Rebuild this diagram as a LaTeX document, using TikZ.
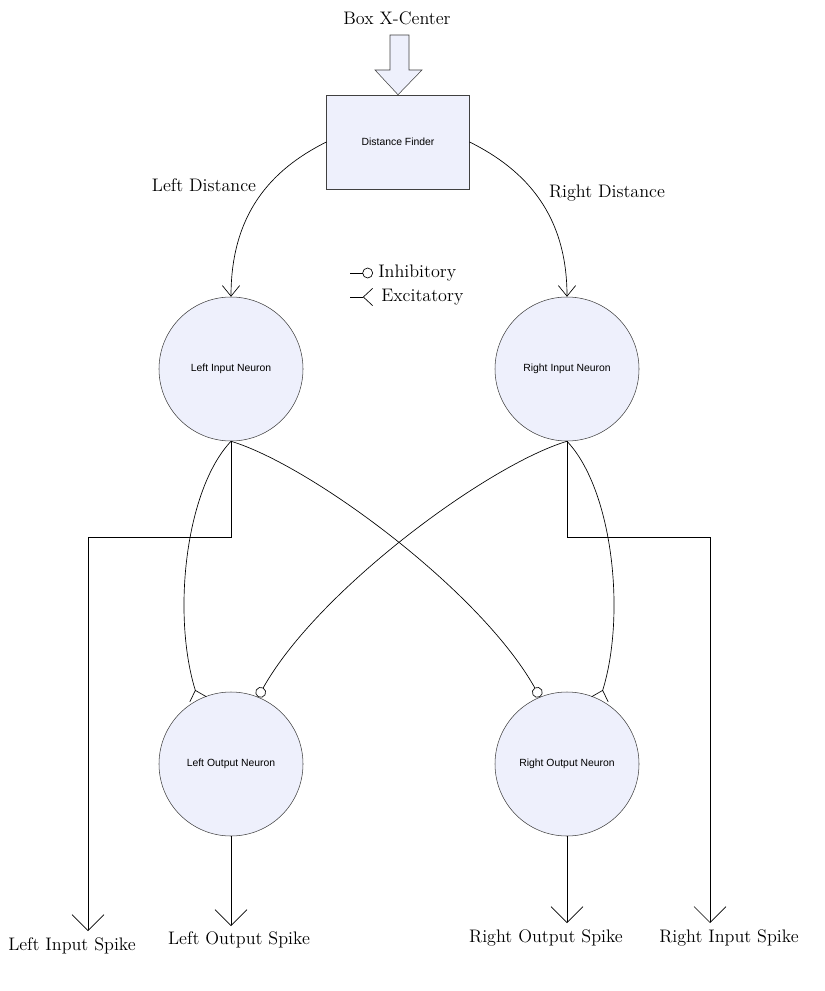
\documentclass[tikz,border=0pt]{standalone}
\usepackage{fontspec}
\newfontfamily\arialfont{Liberation Sans}
\usetikzlibrary{arrows.meta}
\definecolor{neuronfill}{RGB}{238,240,252}
\definecolor{neuronline}{RGB}{64,64,64}

\begin{document}
\begin{tikzpicture}[x=0.75pt,y=-0.75pt,
    neuron/.style={shape=circle,draw=neuronline,fill=neuronfill,minimum size=108pt,inner sep=0pt,font=\arialfont\fontsize{7.8}{9}\selectfont},
    block/.style={shape=rectangle,draw=neuronline,fill=neuronfill,minimum width=107pt,minimum height=70.5pt,font=\arialfont\fontsize{7.8}{9}\selectfont},
    lbl/.style={font=\fontsize{13.6}{16}\selectfont,inner sep=0pt},
    wire/.style={draw=black,line width=0.5pt},
    spike/.style={wire,-{Straight Barb[length=12pt,width=24pt]}},
    feed/.style={wire,-{Straight Barb[length=8pt,width=13pt]}},
    exc/.style={wire,-{Straight Barb[reversed,length=7pt,width=13pt]}},
    inh/.style={wire,-{Circle[open,length=8pt]}}]
            \useasboundingbox (0,0) rectangle (824,991);

            \node[lbl] (boxin) at (397,18) {Box X-Center};
            \node[block] (dist) at (398,142) {Distance Finder};
            \node[neuron] (lin) at (231,369) {Left Input Neuron};
            \node[neuron] (rin) at (567,369) {Right Input Neuron};
            \node[neuron] (lout) at (231,764) {Left Output Neuron};
            \node[neuron] (rout) at (567,764) {Right Output Neuron};

            % block arrow into the distance finder
            \draw[draw=neuronline,fill=neuronfill] (390,35) -- (409,35) -- (409,70) -- (422,70) -- (dist.north) -- (375,70) -- (390,70) -- cycle;

            % legend
            \coordinate (inh0) at (350,273);
            \coordinate (inh1) at (373,273);
            \draw[inh] (inh0) -- (inh1);
            \node[lbl,anchor=west] (inhtxt) at (378,273) {Inhibitory};
            \coordinate (exc0) at (350,297);
            \coordinate (exc1) at (373,297);
            \draw[exc] (exc0) -- (exc1);
            \node[lbl,anchor=west] (exctxt) at (381,297) {Excitatory};

            % distances
            \draw[feed] (dist.west) .. controls (270,170) and (231,215) .. (lin.north);
            \draw[feed] (dist.east) .. controls (526,170) and (567,215) .. (rin.north);
            \node[lbl] (ldist) at (204,185) {Left Distance};
            \node[lbl] (rdist) at (607,193) {Right Distance};

            % synapses
            \draw[exc] (lin.south) .. controls (185,490) and (172,615) .. (lout.117);
            \draw[exc] (rin.south) .. controls (613,490) and (626,615) .. (rout.63);
            \draw[inh] (lin.south) .. controls (310,465) and (480,590) .. (rout.112);
            \draw[inh] (rin.south) .. controls (488,465) and (318,590) .. (lout.68);

            % spikes
            \coordinate (lcorner) at (88,537);
            \coordinate (lspike) at (88,931);
            \coordinate (rcorner) at (710,537);
            \coordinate (rspike) at (710,923);
            \coordinate (lospike) at (231,926);
            \coordinate (rospike) at (567,923);
            \draw[spike] (lin.south) |- (lcorner) -- (lspike);
            \draw[spike] (rin.south) |- (rcorner) -- (rspike);
            \draw[spike] (lout.south) -- (lospike);
            \draw[spike] (rout.south) -- (rospike);
            \node[lbl] (lspiketxt) at (72,946) {Left Input Spike};
            \node[lbl] (lospiketxt) at (239,940) {Left Output Spike};
            \node[lbl] (rospiketxt) at (546,938) {Right Output Spike};
            \node[lbl] (rspiketxt) at (729,938) {Right Input Spike};
        \end{tikzpicture}
\end{document}
